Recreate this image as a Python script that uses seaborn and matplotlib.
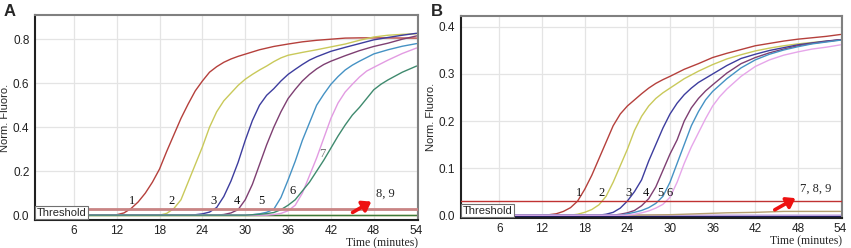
import pandas as pd
import matplotlib.pyplot as plt
import seaborn as sns

# ---- panel A: curve data (time in minutes, normalised fluorescence) ----
A1_T = [0.5, 11, 12, 13, 14, 15, 16, 17, 18, 19, 20, 21, 22, 23, 24, 25, 26, 27, 28, 29, 30,
        32, 34, 36, 38, 40, 42, 44, 46, 48, 54]
A1_Y = [0, 0, 0.002, 0.01, 0.03, 0.06, 0.1, 0.15, 0.21, 0.29, 0.365, 0.44, 0.505, 0.565, 0.61,
        0.65, 0.675, 0.695, 0.71, 0.722, 0.732, 0.752, 0.767, 0.778, 0.788, 0.795, 0.80, 0.805,
        0.806, 0.806, 0.805]
A2_T = [0.5, 18, 19, 20, 21, 22, 23, 24, 25, 26, 27, 28, 29, 30, 31, 32, 33, 34, 35, 36,
        38, 40, 42, 44, 46, 48, 50, 52, 54]
A2_Y = [0, 0, 0.008, 0.03, 0.07, 0.15, 0.23, 0.31, 0.4, 0.47, 0.52, 0.555, 0.59, 0.618, 0.64,
        0.66, 0.678, 0.698, 0.715, 0.727, 0.74, 0.752, 0.765, 0.778, 0.795, 0.81, 0.818, 0.822,
        0.825]
A3_T = [0.5, 22, 23, 24, 25, 26, 27, 28, 29, 30, 31, 32, 33, 34, 35, 36, 37, 38, 39, 40,
        42, 44, 46, 48, 50, 52, 54]
A3_Y = [0, 0, 0.002, 0.006, 0.014, 0.035, 0.085, 0.155, 0.24, 0.34, 0.43, 0.5, 0.545, 0.575,
        0.61, 0.64, 0.663, 0.685, 0.705, 0.72, 0.745, 0.763, 0.78, 0.797, 0.808, 0.818, 0.827]
A4_T = [0.5, 26, 27, 28, 29, 30, 31, 32, 33, 34, 35, 36, 37, 38, 39, 40, 41, 42,
        44, 46, 48, 50, 52, 54]
A4_Y = [0, 0, 0.003, 0.01, 0.025, 0.07, 0.14, 0.23, 0.32, 0.4, 0.47, 0.53, 0.572, 0.61, 0.64,
        0.665, 0.685, 0.70, 0.725, 0.748, 0.767, 0.782, 0.80, 0.815]
A5_T = [0.5, 30, 31, 32, 33, 34, 35, 36, 37, 38, 39, 40, 41, 42, 43, 44, 45, 46, 48, 50, 52, 54]
A5_Y = [0, 0, 0.002, 0.006, 0.013, 0.027, 0.08, 0.16, 0.245, 0.34, 0.42, 0.5, 0.55, 0.595,
        0.63, 0.66, 0.682, 0.70, 0.733, 0.752, 0.768, 0.78]
A6_T = [0.5, 33, 34, 35, 36, 37, 38, 39, 40, 41, 42, 43, 44, 45, 46, 47, 48, 50, 52, 54]
A6_Y = [0, 0, 0.003, 0.008, 0.02, 0.045, 0.1, 0.18, 0.26, 0.35, 0.44, 0.51, 0.56, 0.595,
        0.628, 0.655, 0.672, 0.705, 0.735, 0.76]
A7_T = [0.5, 30, 31, 32, 33, 34, 35, 36, 37, 38, 39, 40, 41, 42, 43, 44, 45, 46, 47, 48, 49, 50,
        52, 54]
A7_Y = [0, 0, 0.002, 0.004, 0.007, 0.012, 0.025, 0.045, 0.07, 0.11, 0.15, 0.2, 0.25, 0.305,
        0.36, 0.41, 0.455, 0.49, 0.53, 0.57, 0.595, 0.615, 0.65, 0.678]
A8_T = [0.5, 54]
A8_Y = [0.002, 0.002]
A9_T = [0.5, 54]
A9_Y = [0.0, 0.0]

# ---- panel B ----
B1_T = [0.5, 12, 13, 14, 15, 16, 17, 18, 19, 20, 21, 22, 23, 24, 25, 26, 27, 28, 29, 30,
        32, 34, 36, 38, 40, 42, 44, 46, 48, 50, 52, 54]
B1_Y = [0, 0, 0.001, 0.003, 0.008, 0.016, 0.03, 0.055, 0.085, 0.12, 0.155, 0.19, 0.215, 0.232,
        0.245, 0.258, 0.27, 0.28, 0.288, 0.295, 0.31, 0.322, 0.335, 0.344, 0.352, 0.36, 0.365,
        0.37, 0.374, 0.377, 0.38, 0.384]
B2_T = [0.5, 16, 17, 18, 19, 20, 21, 22, 23, 24, 25, 26, 27, 28, 29, 30,
        32, 34, 36, 38, 40, 42, 44, 46, 48, 50, 52, 54]
B2_Y = [0, 0, 0.002, 0.006, 0.012, 0.022, 0.04, 0.07, 0.105, 0.14, 0.18, 0.21, 0.232, 0.248,
        0.26, 0.27, 0.29, 0.306, 0.32, 0.332, 0.341, 0.349, 0.355, 0.36, 0.364, 0.367, 0.37, 0.372]
B3_T = [0.5, 20, 21, 22, 23, 24, 25, 26, 27, 28, 29, 30, 31, 32, 33, 34,
        36, 38, 40, 42, 44, 46, 48, 50, 52, 54]
B3_Y = [0, 0, 0.002, 0.006, 0.015, 0.03, 0.05, 0.075, 0.115, 0.15, 0.185, 0.215, 0.238, 0.256,
        0.27, 0.282, 0.30, 0.318, 0.333, 0.342, 0.35, 0.356, 0.362, 0.366, 0.37, 0.373]
B4_T = [0.5, 22, 23, 24, 25, 26, 27, 28, 29, 30, 31, 32, 33, 34, 35, 36,
        38, 40, 42, 44, 46, 48, 50, 52, 54]
B4_Y = [0, 0, 0.002, 0.005, 0.01, 0.02, 0.035, 0.06, 0.095, 0.13, 0.16, 0.2, 0.228, 0.248,
        0.264, 0.277, 0.302, 0.322, 0.335, 0.345, 0.353, 0.36, 0.365, 0.369, 0.373]
B5_T = [0.5, 23, 24, 25, 26, 27, 28, 29, 30, 31, 32, 33, 34, 35, 36,
        38, 40, 42, 44, 46, 48, 50, 52, 54]
B5_Y = [0, 0, 0.003, 0.006, 0.01, 0.016, 0.025, 0.04, 0.07, 0.11, 0.15, 0.19, 0.22, 0.245,
        0.263, 0.29, 0.313, 0.33, 0.342, 0.351, 0.358, 0.364, 0.368, 0.372]
B6_T = [0.5, 24, 25, 26, 27, 28, 29, 30, 31, 32, 33, 34, 35, 36, 37, 38,
        40, 42, 44, 46, 48, 50, 52, 54]
B6_Y = [0, 0, 0.002, 0.005, 0.009, 0.015, 0.023, 0.038, 0.07, 0.11, 0.145, 0.175, 0.205, 0.232,
        0.252, 0.268, 0.295, 0.316, 0.33, 0.34, 0.347, 0.353, 0.357, 0.362]
B7_T = [0.5, 24, 30, 34, 38, 42, 46, 50, 54]
B7_Y = [0, 0, 0.001, 0.003, 0.005, 0.006, 0.008, 0.008, 0.008]
B8_T = [0.5, 3, 54]
B8_Y = [0.008, 0.0, 0.0]
B9_T = [0.5, 54]
B9_Y = [-0.002, -0.002]

A_COLORS = ["#b5403c", "#c9c95a", "#3d3d9e", "#7e3f72", "#4592c4", "#e29be2", "#3f8a6e",
            "#3d7a3d", "#c8b848"]
B_COLORS = ["#b5403c", "#c9c95a", "#3d3d9e", "#7e3f72", "#4592c4", "#e6a6ea", "#b8a070",
            "#c0a0e0", "#1e1e60"]
A_LABELS = ["1", "2", "3", "4", "5", "6", "7"]
B_LABELS = ["1", "2", "3", "4", "5", "6"]
A_LABEL_T = [14.2, 19.7, 25.6, 28.8, 32.3, 36.6, 40.8]
A_LABEL_Y = [0.064, 0.064, 0.064, 0.064, 0.064, 0.109, 0.278]
B_LABEL_T = [17.2, 20.3, 24.2, 26.6, 28.7, 30.0]
B_LABEL_Y = [0.047, 0.047, 0.047, 0.047, 0.047, 0.047]
THRESHOLD_A = 0.03
THRESHOLD_B = 0.03
X_TICKS = [6, 12, 18, 24, 30, 36, 42, 48, 54]


def build(curves):
    rows = []
    for i, (t, y) in enumerate(curves):
        rows.append(pd.DataFrame({"Time": t, "Fluoro": y, "Curve": str(i + 1)}))
    return pd.concat(rows, ignore_index=True)


df_a = build([(A9_T, A9_Y), (A8_T, A8_Y), (A1_T, A1_Y), (A2_T, A2_Y), (A3_T, A3_Y),
              (A4_T, A4_Y), (A5_T, A5_Y), (A6_T, A6_Y), (A7_T, A7_Y)])
pal_a = [A_COLORS[8], A_COLORS[7]] + A_COLORS[:7]
df_b = build([(B9_T, B9_Y), (B8_T, B8_Y), (B7_T, B7_Y), (B1_T, B1_Y), (B2_T, B2_Y),
              (B3_T, B3_Y), (B4_T, B4_Y), (B5_T, B5_Y), (B6_T, B6_Y)])
pal_b = [B_COLORS[8], B_COLORS[7], B_COLORS[6]] + B_COLORS[:6]

sns.set_style("white")
plt.rcParams["font.family"] = ["Liberation Sans", "DejaVu Sans"]
serif = ["Liberation Serif", "DejaVu Serif"]

fig = plt.figure(figsize=(8.51, 2.48), dpi=100)
ax_a = fig.add_axes([0.0411, 0.1129, 0.4501, 0.8266])
ax_b = fig.add_axes([0.5414, 0.121, 0.448, 0.814])


def style(ax, ylim, yticks, thr, thr_color, thr_lw, arrow_from, arrow_to, arrow_text):
    ax.set_xlim(0.55, 54.2)
    ax.set_ylim(*ylim)
    ax.set_xticks(X_TICKS)
    ax.set_yticks(yticks)
    ax.set_yticklabels([f"{v:.1f}" for v in yticks])
    ax.grid(True, color="#e4e4e4", lw=0.9)
    ax.set_axisbelow(True)
    ax.tick_params(labelsize=8.5, length=2, colors="#222222")
    ax.tick_params(axis="x", pad=1.5)
    ax.tick_params(axis="y", pad=2)
    for side in ["top", "right"]:
        ax.spines[side].set_color("#808080")
        ax.spines[side].set_linewidth(1.5)
    for side in ["left", "bottom"]:
        ax.spines[side].set_color("#202020")
        ax.spines[side].set_linewidth(1.5)
    ax.set_ylabel("Norm. Fluoro.", fontsize=8, labelpad=2)
    ax.set_xlabel("Time (minutes)", fontsize=8.5, family=serif, loc="right", labelpad=0.5)
    ax.axhline(thr, color=thr_color, lw=thr_lw, zorder=3)
    ax.text(0.004, 0.012, "Threshold", transform=ax.transAxes, fontsize=8, ha="left",
            va="bottom", zorder=6,
            bbox=dict(boxstyle="square,pad=0.15", fc="white", ec="#707070", lw=0.8))
    ax.annotate("", xy=arrow_to, xytext=arrow_from,
                arrowprops=dict(arrowstyle="-|>,head_length=0.5,head_width=0.35",
                                color="#ee1111", lw=2.6), zorder=6)
    ax.text(arrow_to[0] + 0.3, arrow_to[1] + 0.004, arrow_text, fontsize=9, family=serif,
            ha="left", va="bottom")


sns.lineplot(data=df_a, x="Time", y="Fluoro", hue="Curve", palette=pal_a, estimator=None,
             sort=False, legend=False, lw=1.0, ax=ax_a)
style(ax_a, (-0.022, 0.91), [0.0, 0.2, 0.4, 0.6, 0.8], THRESHOLD_A, "#c98484", 2.0,
      (44.7, 0.006), (48.0, 0.068), "8, 9")
for lab, tx, ty in zip(A_LABELS, A_LABEL_T, A_LABEL_Y):
    ax_a.text(tx, ty, lab, fontsize=9, family=serif, ha="center", va="center",
              color="#777777" if lab == "7" else "#111111")

sns.lineplot(data=df_b, x="Time", y="Fluoro", hue="Curve", palette=pal_b, estimator=None,
             sort=False, legend=False, lw=1.0, ax=ax_b)
style(ax_b, (-0.006, 0.423), [0.0, 0.1, 0.2, 0.3, 0.4], THRESHOLD_B, "#c03232", 1.0,
      (44.4, 0.0085), (48.0, 0.039), "7, 8, 9")
for lab, tx, ty in zip(B_LABELS, B_LABEL_T, B_LABEL_Y):
    ax_b.text(tx, ty, lab, fontsize=9, family=serif, ha="center", va="center", color="#111111")

fig.text(0.004, 0.985, "A", fontsize=12, fontweight="bold", va="top", ha="left")
fig.text(0.506, 0.985, "B", fontsize=12, fontweight="bold", va="top", ha="left")

fig.savefig("out.png", dpi=100)
